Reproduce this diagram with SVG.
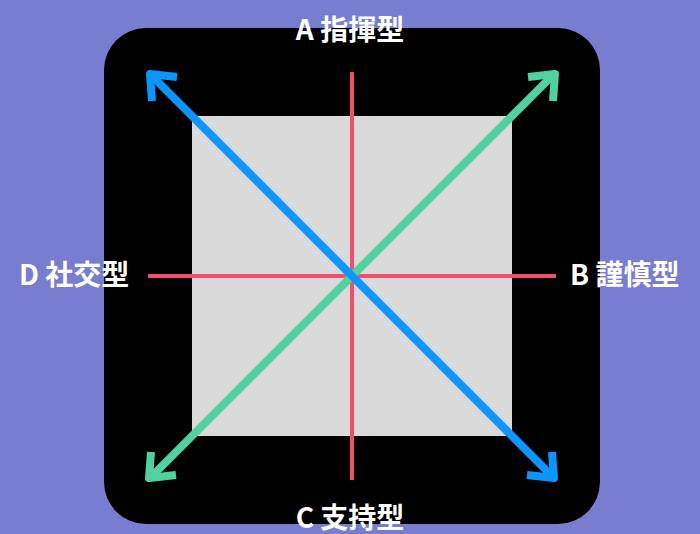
<svg xmlns="http://www.w3.org/2000/svg" width="700" height="534" viewBox="0 0 700 534">
<style>
.lbl{font-family:"Noto Sans CJK JP","Noto Sans",sans-serif;font-weight:bold;font-size:28px;fill:#ffffff}
.axis{stroke:#f0506e;stroke-width:4;fill:none}
.blue{stroke:#0a96ff;stroke-width:8;fill:none;stroke-linejoin:round}
.green{stroke:#50d2a0;stroke-width:8;fill:none;stroke-linejoin:round}
</style>
<rect width="700" height="534" fill="#797dd0"/>
<g id="frame">
<rect x="104" y="28" width="496" height="496" rx="42" fill="#000000"/>
<rect x="192" y="116" width="320" height="320" fill="#d9d9d9"/>
</g>
<g id="connectors">
<line class="axis" x1="352" y1="72" x2="352" y2="480"/>
<line class="axis" x1="148" y1="276" x2="556" y2="276"/>
<line class="green" x1="553" y1="75" x2="151" y2="477"/>
<path class="green" d="M528,77 L555,74 L553,101"/>
<path class="green" d="M151,452 L149,478 L176,475"/>
<line class="blue" x1="151" y1="75" x2="553" y2="477"/>
<path class="blue" d="M177,77 L150,74 L152,101"/>
<path class="blue" d="M527,475 L554,478 L552,452"/>
</g>
<g id="labelA"><text class="lbl" x="350" y="40" text-anchor="middle">A 指揮型</text></g>
<g id="labelB"><text class="lbl" x="570" y="285">B 謹慎型</text></g>
<g id="labelC"><text class="lbl" x="350" y="528" text-anchor="middle">C 支持型</text></g>
<g id="labelD"><text class="lbl" x="19" y="285">D 社交型</text></g>
</svg>
